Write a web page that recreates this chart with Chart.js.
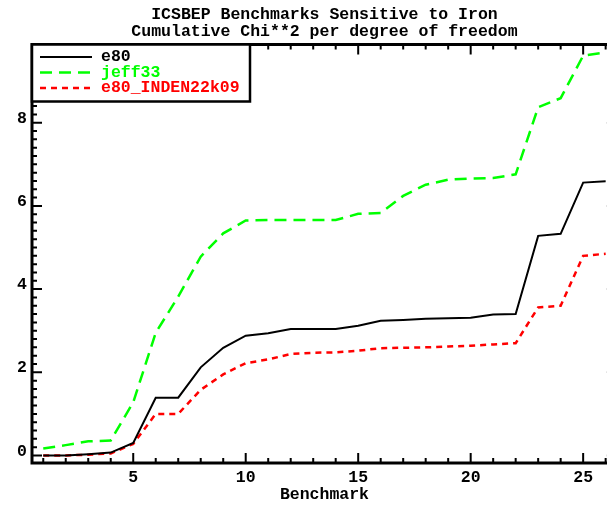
<!DOCTYPE html>
<html>
<head>
<meta charset="utf-8">
<script src="https://cdn.jsdelivr.net/npm/chart.js@4"></script>
<style>
  body { margin: 0; background: #fff; }
</style>
</head>
<body>
<canvas id="myChart" width="607" height="505"></canvas>
<script>
const benchmarks = [1, 2, 3, 4, 5, 6, 7, 8, 9, 10, 11, 12, 13, 14, 15, 16, 17, 18, 19, 20, 21, 22, 23, 24, 25, 26];
const e80 = [0.00, 0.00, 0.03, 0.07, 0.30, 1.39, 1.39, 2.12, 2.59, 2.88, 2.94, 3.04, 3.04, 3.04, 3.12, 3.24, 3.26, 3.29, 3.30, 3.31, 3.39, 3.40, 5.28, 5.33, 6.56, 6.59];
const jeff33 = [0.17, 0.25, 0.34, 0.36, 1.28, 2.95, 3.82, 4.78, 5.34, 5.65, 5.66, 5.66, 5.66, 5.66, 5.81, 5.83, 6.24, 6.51, 6.63, 6.66, 6.67, 6.76, 8.37, 8.59, 9.61, 9.69];
const e80Inden = [0.00, 0.00, 0.02, 0.05, 0.28, 1.00, 1.00, 1.58, 1.95, 2.22, 2.31, 2.44, 2.47, 2.48, 2.52, 2.58, 2.59, 2.60, 2.62, 2.64, 2.67, 2.70, 3.56, 3.60, 4.80, 4.85];
const xTicks = [5, 10, 15, 20, 25];
const yTicks = [0, 2, 4, 6, 8];

const titleLines = ["ICSBEP Benchmarks Sensitive to Iron", "Cumulative Chi**2 per degree of freedom"];
const xTitle = "Benchmark";
const font = "bold 16.5px 'Liberation Mono', monospace";

// IDL style plot range: x goes 0.5 .. 26.5 (right part is cut off by the window)
const xLo = 0.5, xHi = 26.5;

const toPoints = (vals) => vals.map((v, i) => ({ x: benchmarks[i], y: v }));

// frame with inward ticks on all four sides
const framePlugin = {
  id: "frame",
  beforeDraw(chart) {
    const ctx = chart.ctx;
    ctx.save();
    ctx.fillStyle = "#fff";
    ctx.fillRect(0, 0, chart.width, chart.height);
    ctx.restore();
  },
  afterDatasetsDraw(chart) {
    const { ctx, chartArea: a, scales: { x, y } } = chart;
    const xl = x.getPixelForValue(xLo);
    const xr = x.getPixelForValue(xHi);
    ctx.save();
    ctx.strokeStyle = "#000";
    ctx.lineWidth = 2;
    ctx.beginPath();
    for (let v = 1; v <= 26; v++) {
      const px = x.getPixelForValue(v);
      const len = v % 5 === 0 ? 10 : 5;
      ctx.moveTo(px, a.bottom); ctx.lineTo(px, a.bottom - len);
      ctx.moveTo(px, a.top); ctx.lineTo(px, a.top + len);
    }
    for (let k = 0; k < 50; k++) {
      const py = y.getPixelForValue(k * 0.2);
      const len = k % 10 === 0 ? 10 : 5;
      ctx.moveTo(xl, py); ctx.lineTo(xl + len, py);
      ctx.moveTo(xr, py); ctx.lineTo(xr - len, py);
    }
    ctx.stroke();
    ctx.lineWidth = 3;
    ctx.strokeRect(xl, a.top, xr - xl, a.bottom - a.top);
    ctx.restore();
  },
  afterDraw(chart) {
    const { ctx, chartArea: a, scales: { x } } = chart;
    const cx = x.getPixelForValue((xLo + xHi) / 2);
    ctx.save();
    ctx.font = font;
    ctx.fillStyle = "#000";
    ctx.textAlign = "center";
    ctx.textBaseline = "middle";
    ctx.fillText(titleLines[0], cx, 15);
    ctx.fillText(titleLines[1], cx, 31.5);
    ctx.fillText(xTitle, cx, 495);

    // legend box
    ctx.fillStyle = "#fff";
    ctx.fillRect(a.left, a.top, 218, 57);
    ctx.strokeStyle = "#000";
    ctx.lineWidth = 2.5;
    ctx.strokeRect(a.left, a.top, 218, 57);
    ctx.textAlign = "left";
    chart.data.datasets.forEach((ds, i) => {
      const ly = 57 + i * 15.5;
      ctx.strokeStyle = ds.borderColor;
      ctx.lineWidth = ds.borderWidth;
      ctx.setLineDash(ds.borderDash || []);
      ctx.beginPath();
      ctx.moveTo(40, ly);
      ctx.lineTo(92, ly);
      ctx.stroke();
      ctx.fillStyle = ds.borderColor;
      ctx.fillText(ds.label, 101, ly);
    });
    ctx.restore();
  },
};

let ctx = document.getElementById("myChart").getContext("2d");

let chiChart = new Chart(ctx, {
  type: "line",
  data: {
    datasets: [
      {
        label: "e80",
        data: toPoints(e80),
        borderColor: "#000000",
        borderWidth: 2,
        pointRadius: 0,
        tension: 0,
      },
      {
        label: "jeff33",
        data: toPoints(jeff33),
        borderColor: "#00ff00",
        borderWidth: 2.5,
        borderDash: [12, 7],
        pointRadius: 0,
        tension: 0,
      },
      {
        label: "e80_INDEN22k09",
        data: toPoints(e80Inden),
        borderColor: "#ff0000",
        borderWidth: 2.5,
        borderDash: [6, 5],
        pointRadius: 0,
        tension: 0,
      },
    ],
  },
  options: {
    responsive: false,
    animation: false,
    layout: { padding: { top: 44.5, right: 0, left: 0, bottom: 0 } },
    plugins: {
      legend: { display: false },
      title: { display: false },
      tooltip: { enabled: false },
    },
    scales: {
      x: {
        type: "linear",
        min: xLo,
        max: 26.06,
        grid: { display: false, drawTicks: false },
        border: { display: false },
        afterBuildTicks: (s) => { s.ticks = xTicks.map((v) => ({ value: v })); },
        afterFit: (s) => { s.height = 42; },
        ticks: {
          padding: 5,
          maxRotation: 0,
          autoSkip: false,
          color: "#000",
          font: { family: "'Liberation Mono', monospace", size: 16.5, weight: "bold" },
        },
      },
      y: {
        min: -0.18,
        max: 9.88,
        grid: { display: false, drawTicks: false },
        border: { display: false },
        afterBuildTicks: (s) => { s.ticks = yTicks.map((v) => ({ value: v })); },
        afterFit: (s) => { s.width = 32; },
        ticks: {
          padding: 5,
          labelOffset: -4,
          color: "#000",
          font: { family: "'Liberation Mono', monospace", size: 16.5, weight: "bold" },
        },
      },
    },
  },
  plugins: [framePlugin],
});
</script>
</body>
</html>
